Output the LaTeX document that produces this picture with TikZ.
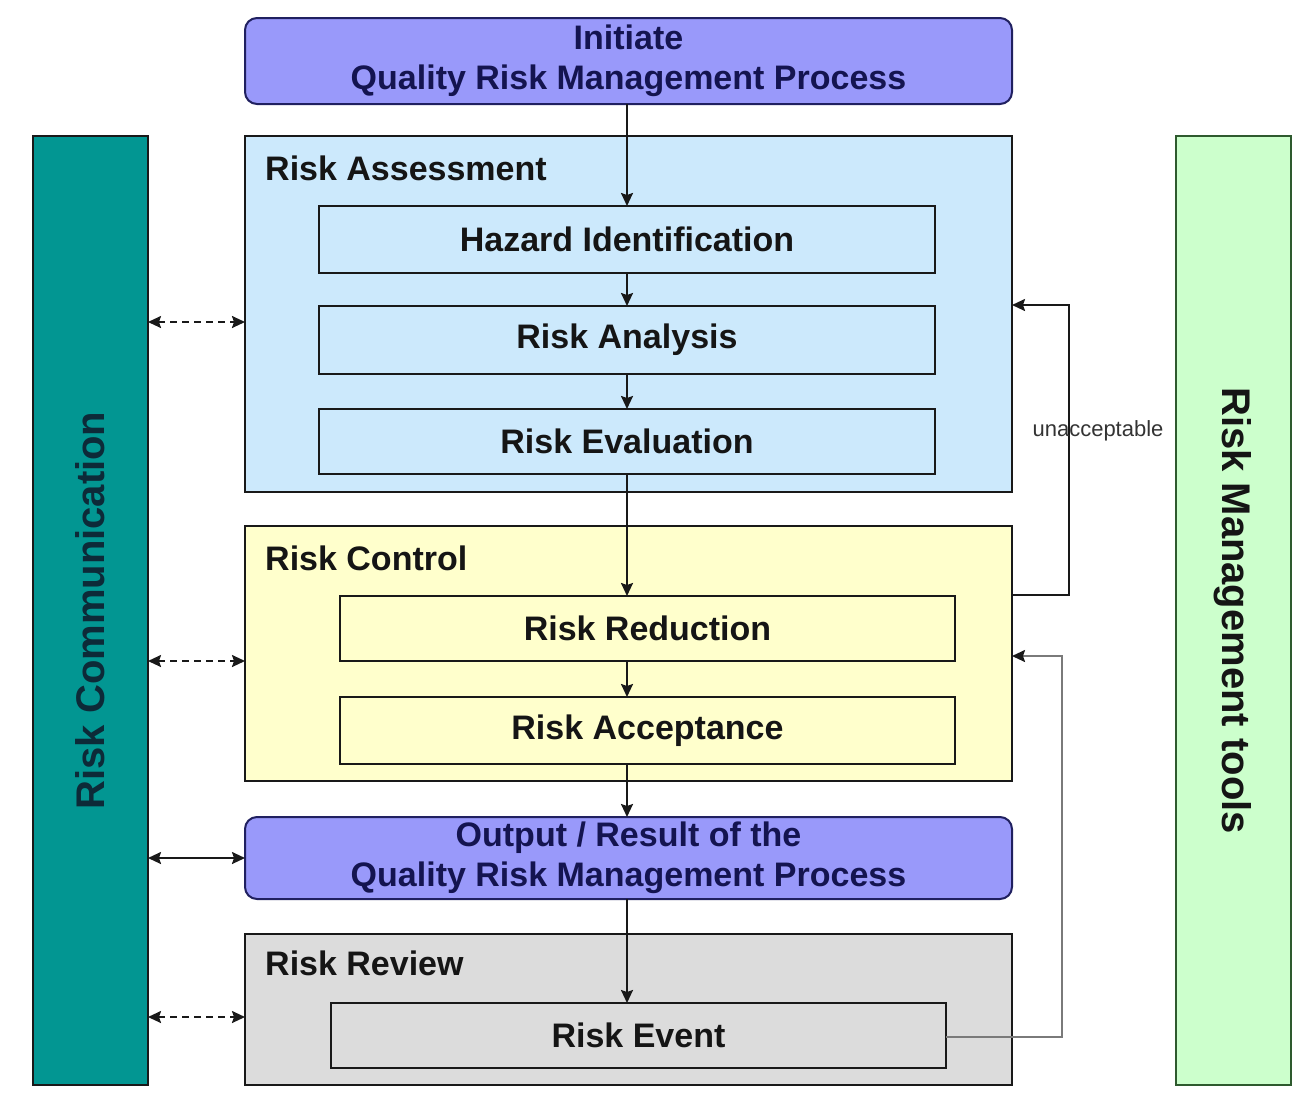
\documentclass[tikz,border=0pt]{standalone}
\usepackage{fontspec}
\setmainfont{Liberation Sans}
\usetikzlibrary{arrows.meta}

\definecolor{procfill}{HTML}{9999FA}
\definecolor{procline}{HTML}{202060}
\definecolor{proctext}{HTML}{141450}
\definecolor{assessfill}{HTML}{CCE9FC}
\definecolor{controlfill}{HTML}{FFFFCC}
\definecolor{reviewfill}{HTML}{DCDCDC}
\definecolor{commfill}{HTML}{029692}
\definecolor{commtext}{HTML}{0D2A38}
\definecolor{toolsfill}{HTML}{CCFFCC}
\definecolor{toolsline}{HTML}{2E5A2E}
\definecolor{inktext}{HTML}{151515}
\definecolor{returnline}{HTML}{7A7A7A}

\begin{document}
\begin{tikzpicture}[x=1pt,y=-1pt,
  bigfont/.style={font=\bfseries\fontsize{34}{40}\selectfont},
  sidefont/.style={font=\bfseries\fontsize{40}{46}\selectfont},
  frame/.style={draw=black!90, line width=2pt, inner sep=0pt, outer sep=0pt},
  procbox/.style={frame, bigfont, rounded corners=12pt, fill=procfill, draw=procline,
    text=proctext, align=center, minimum width=767pt},
  stagebox/.style={frame, minimum width=767pt},
  stepbox/.style={frame, bigfont, text=inktext, minimum width=616pt},
  stagelabel/.style={bigfont, text=inktext, anchor=west, inner sep=0pt},
  sidebar/.style={frame, minimum width=115pt, minimum height=949pt},
  sidetext/.style={sidefont, inner sep=0pt},
  flow/.style={-{Stealth[length=13pt,width=12pt,inset=2pt]}, line width=2pt, draw=black!90},
  talk/.style={{Stealth[length=13pt,width=12pt,inset=2pt]}-{Stealth[length=13pt,width=12pt,inset=2pt]},
    line width=2pt, draw=black!90, dash pattern=on 7pt off 5pt},
  talksolid/.style={{Stealth[length=13pt,width=12pt,inset=2pt]}-{Stealth[length=13pt,width=12pt,inset=2pt]},
    line width=2pt, draw=black!90}
]
\useasboundingbox[fill=white] (0,0) rectangle (1306,1109);

% side bars
\node[sidebar, fill=commfill] (comm) at (90.5,610.5) {};
\node[sidetext, rotate=90, text=commtext] (commtxt) at (comm.center) {Risk Communication};
\node[sidebar, fill=toolsfill, draw=toolsline] (tools) at (1233,610.5) {};
\node[sidetext, rotate=-90, text=inktext] (toolstxt) at (tools.center) {Risk Management tools};

% start and output of the process
\node[procbox, minimum height=86pt] (init) at (628.5,61) {Initiate\\Quality Risk Management Process};
\node[procbox, minimum height=82pt] (out) at (628.5,858) {Output / Result of the\\Quality Risk Management Process};

% stage containers
\node[stagebox, fill=assessfill, minimum height=356pt] (ra) at (628.5,314) {};
\node[stagelabel] (ralbl) at (265,168) {Risk Assessment};
\node[stagebox, fill=controlfill, minimum height=255pt] (rc) at (628.5,653.5) {};
\node[stagelabel] (rclbl) at (265,558) {Risk Control};
\node[stagebox, fill=reviewfill, minimum height=151pt] (rr) at (628.5,1009.5) {};
\node[stagelabel] (rrlbl) at (265,963) {Risk Review};

% steps
\node[stepbox, minimum height=67pt] (haz) at (627,239.5) {Hazard Identification};
\node[stepbox, minimum height=68pt] (ana) at (627,340) {Risk Analysis};
\node[stepbox, minimum height=65pt] (eval) at (627,441.5) {Risk Evaluation};
\node[stepbox, minimum width=615pt, minimum height=65pt] (red) at (647.5,628.5) {Risk Reduction};
\node[stepbox, minimum width=615pt, minimum height=67pt] (acc) at (647.5,730.5) {Risk Acceptance};
\node[stepbox, minimum width=615pt, minimum height=65pt] (ev) at (638.5,1035.5) {Risk Event};

% main flow
\coordinate (spine) at (627,0);
\draw[flow] (spine |- init.south) -- (spine |- haz.north);
\draw[flow] (spine |- haz.south) -- (spine |- ana.north);
\draw[flow] (spine |- ana.south) -- (spine |- eval.north);
\draw[flow] (spine |- eval.south) -- (spine |- red.north);
\draw[flow] (spine |- red.south) -- (spine |- acc.north);
\draw[flow] (spine |- acc.south) -- (spine |- out.north);
\draw[flow] (spine |- out.south) -- (spine |- ev.north);

% communication links
\draw[talk] (comm.east |- 0,322) -- (ra.west |- 0,322);
\draw[talk] (comm.east |- 0,661) -- (rc.west |- 0,661);
\draw[talksolid] (comm.east |- out.west) -- (out.west);
\draw[talk] (comm.east |- 0,1017) -- (rr.west |- 0,1017);

% feedback loops
\coordinate (loopa) at (1069,0);
\draw[flow] (rc.east |- 0,595) -- (loopa |- 0,595) -- (loopa |- 0,305) -- (ra.east |- 0,305);
\node[font=\fontsize{22}{24}\selectfont, text=black!80, inner sep=0pt] (unacc) at (1098,431) {unacceptable};
\coordinate (loopb) at (1062,0);
\draw[-{Stealth[length=13pt,width=12pt,inset=2pt,color=black!90]}, line width=2pt, draw=returnline]
  (ev.east |- 0,1037) -- (loopb |- 0,1037) -- (loopb |- 0,656) -- (rc.east |- 0,656);
\end{tikzpicture}
\end{document}
